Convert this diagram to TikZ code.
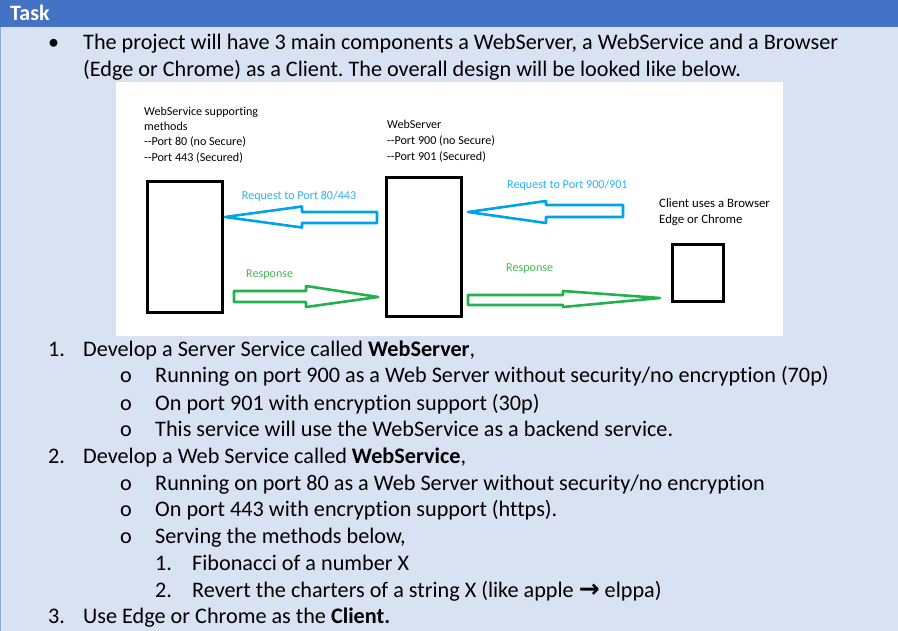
\documentclass[tikz,border=0pt]{standalone}
\usepackage{fontspec}
\setmainfont{Carlito}[Ligatures={NoCommon}]
\newfontfamily\symfont{DejaVu Sans}
\definecolor{hdr}{HTML}{4472C4}
\definecolor{cellbg}{HTML}{D9E2F3}
\definecolor{cellline}{HTML}{8EAADB}
\definecolor{reqblue}{HTML}{00A2E8}
\definecolor{reqtext}{HTML}{2DB2F0}
\definecolor{respgreen}{HTML}{22B14C}
\definecolor{resptext}{HTML}{44BB55}
\newcommand{\dd}{-\kern0pt-}
\frenchspacing
\tikzset{
  body/.style={anchor=base west, inner sep=0pt, font=\fontsize{22.2}{26}\selectfont},
  small/.style={anchor=base west, inner sep=0pt, font=\fontsize{12.1}{14}\selectfont},
  compbox/.style={draw=black, line width=3pt, fill=white},
  reqarrow/.style={draw=reqblue, line width=2.6pt, line join=round},
  resparrow/.style={draw=respgreen, line width=2.6pt, line join=round},
}
\begin{document}
\begin{tikzpicture}[x=1pt,y=-1pt]
\useasboundingbox (0,0) rectangle (898,631);
% background and header
\fill[cellbg] (0,0) rectangle (898,631);
\fill[hdr] (0,0) rectangle (898,27);
\draw[cellline, line width=1pt] (0.5,27) -- (0.5,631);
\node[anchor=base west, inner sep=0pt, text=white, font=\fontsize{22}{26}\selectfont\bfseries] (task) at (10,20.5) {Task};

% intro bullet
\node[body] (bul) at (48,50) {\textbullet};
\node[body] (intro1) at (83,50) {The project will have 3 main components a WebServer, a WebService and a Browser};
\node[body] (intro2) at (83,76.5) {(Edge or Chrome) as a Client. The overall design will be looked like below.};

% diagram image area
\fill[white] (116,82) rectangle (783,336);

\node[small] (ws1) at (144,115.7) {WebService supporting};
\node[small] (ws2) at (144,130.7) {methods};
\node[small] (ws3) at (144,145.7) {\dd Port 80 (no Secure)};
\node[small] (ws4) at (144,161.2) {\dd Port 443 (Secured)};

\node[small] (sv1) at (387,129) {WebServer};
\node[small] (sv2) at (387,145) {\dd Port 900 (no Secure)};
\node[small] (sv3) at (387,160.7) {\dd Port 901 (Secured)};

\node[small, font=\fontsize{12.8}{15}\selectfont] (cl1) at (659,207.3) {Client uses a Browser};
\node[small, font=\fontsize{12.8}{15}\selectfont] (cl2) at (659,223.3) {Edge or Chrome};

\node[compbox, anchor=north west, minimum width=75pt, minimum height=131pt, inner sep=0pt] (wsbox) at (146,180) {};
\node[compbox, anchor=north west, minimum width=75pt, minimum height=139pt, inner sep=0pt] (svbox) at (385,176) {};
\node[compbox, anchor=north west, minimum width=51pt, minimum height=57pt, inner sep=0pt] (clbox) at (671,243) {};

\node[small, text=reqtext] (req1) at (241.7,200) {Request to Port 80/443};
\node[small, text=reqtext] (req2) at (507,189) {Request to Port 900/901};
\node[small, text=resptext] (resp1) at (246,278) {Response};
\node[small, text=resptext] (resp2) at (506,271.7) {Response};

% request arrows (pointing left)
\draw[reqarrow] (225,217) -- (302,206.5) -- (302,212) -- (377,212) -- (377,223) -- (302,223) -- (302,227.5) -- cycle;
\draw[reqarrow] (468,212) -- (546,201) -- (546,205) -- (623,205) -- (623,217) -- (546,217) -- (546,223) -- cycle;
% response arrows (pointing right)
\draw[resparrow] (234,291) -- (306,291) -- (306,286) -- (378,297) -- (306,307) -- (306,302) -- (234,302) -- cycle;
\draw[resparrow] (468,295) -- (563,295) -- (563,291) -- (660,298) -- (563,307) -- (563,305) -- (468,305) -- cycle;

% numbered list
\node[body] (n1) at (48,357) {1.};
\node[body] (t1) at (83,357) {Develop a Server Service called \textbf{WebServer},};
\node[body] (o11) at (120,383) {o};
\node[body] (t11) at (155,383) {Running on port 900 as a Web Server without security/no encryption (70p)};
\node[body] (o12) at (120,410) {o};
\node[body] (t12) at (155,410) {On port 901 with encryption support (30p)};
\node[body] (o13) at (120,436.5) {o};
\node[body] (t13) at (155,436.5) {This service will use the WebService as a backend service.};
\node[body] (n2) at (48,463) {2.};
\node[body] (t2) at (83,463) {Develop a Web Service called \textbf{WebService},};
\node[body] (o21) at (120,490) {o};
\node[body] (t21) at (155,490) {Running on port 80 as a Web Server without security/no encryption};
\node[body] (o22) at (120,516.5) {o};
\node[body] (t22) at (155,516.5) {On port 443 with encryption support (https).};
\node[body] (o23) at (120,543) {o};
\node[body] (t23) at (155,543) {Serving the methods below,};
\node[body] (m1) at (155,570) {1.};
\node[body] (mt1) at (192,570) {Fibonacci of a number X};
\node[body] (m2) at (155,597) {2.};
\node[body] (mt2) at (192,597) {Revert the charters of a string X (like apple {\symfont\bfseries\fontsize{25}{26}\selectfont →} elppa)};
\node[body] (n3) at (48,623.5) {3.};
\node[body] (t3) at (83,623.5) {Use Edge or Chrome as the \textbf{Client.}};
\end{tikzpicture}
\end{document}
